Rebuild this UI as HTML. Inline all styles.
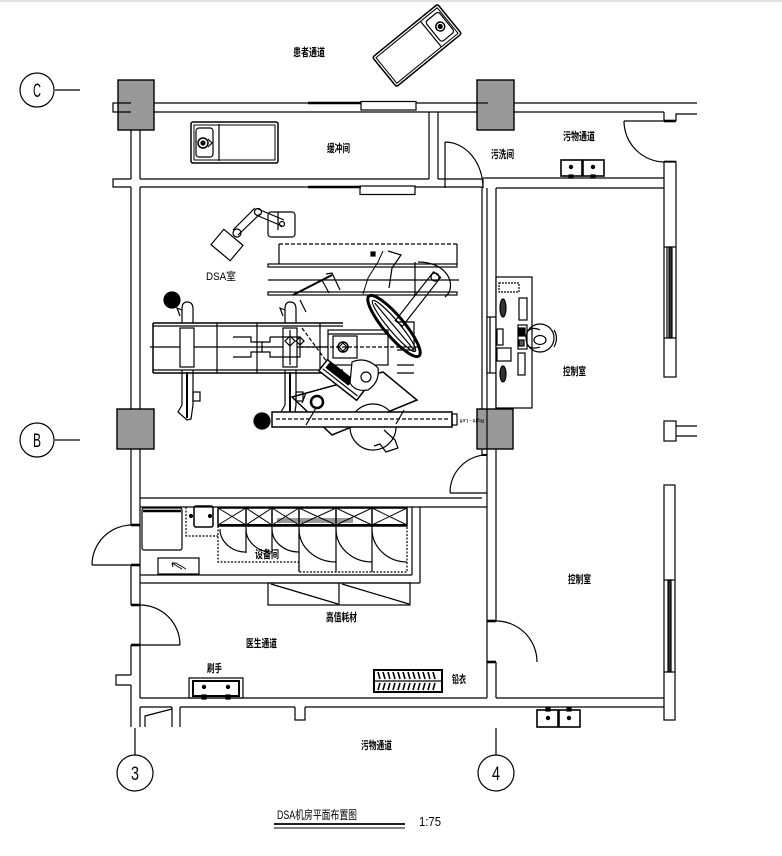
<!DOCTYPE html>
<html><head><meta charset="utf-8">
<style>
html,body{margin:0;padding:0;background:#fff}
svg{display:block}
.t{font-family:"Liberation Sans","Noto Sans CJK SC",sans-serif;font-size:11px;font-weight:bold;fill:#000;stroke:none}
.n{font-family:"Liberation Sans","Noto Sans CJK SC",sans-serif;font-size:11px;fill:#000;stroke:none}
</style></head><body>
<svg width="782" height="856" viewBox="0 0 782 856" xmlns="http://www.w3.org/2000/svg">
<rect x="0" y="0" width="782" height="2" fill="#dde2e5"/>
<g fill="none" stroke="#000" stroke-width="1.2">

<!-- ===== Axis bubbles ===== -->
<circle cx="37" cy="90" r="17"/><line x1="55" y1="90" x2="80" y2="90"/>
<circle cx="37" cy="440" r="17"/><line x1="55" y1="440" x2="80" y2="440"/>
<circle cx="135" cy="773" r="18"/><line x1="135" y1="728" x2="135" y2="755"/>
<circle cx="496" cy="773" r="18"/><line x1="496" y1="728" x2="496" y2="755"/>

<!-- ===== Top wall (axis C) ===== -->
<line x1="154" y1="103" x2="308" y2="103"/>
<line x1="308" y1="103" x2="361" y2="103" stroke-width="2.6"/>
<rect x="361" y="101.5" width="55" height="8.5"/>
<line x1="416" y1="103" x2="477" y2="103"/>
<line x1="154" y1="112" x2="477" y2="112"/>
<line x1="514" y1="103" x2="697" y2="103"/>
<line x1="514" y1="112" x2="664" y2="112"/>
<polyline points="664,112 664,121"/>
<polyline points="697,114 676,114 676,121"/>
<line x1="664" y1="121" x2="676" y2="121" stroke-width="2.6"/>

<!-- partition -->
<line x1="429" y1="112" x2="429" y2="179"/>
<line x1="438" y1="112" x2="438" y2="179"/>

<!-- ===== Second wall y 179-188 ===== -->
<polyline points="131,179 113,179 113,187 131,187"/>
<line x1="140" y1="179" x2="429" y2="179"/>
<line x1="438" y1="179" x2="483" y2="179"/>
<line x1="140" y1="187" x2="308" y2="187"/>
<line x1="308" y1="187" x2="361" y2="187" stroke-width="2.6"/>
<rect x="360" y="186" width="55" height="8.5"/>
<line x1="415" y1="187" x2="482" y2="187"/>
<line x1="483" y1="179" x2="483" y2="188"/>
<line x1="483" y1="178" x2="664" y2="178"/>
<line x1="496" y1="188" x2="664" y2="188"/>
<!-- 污洗间 door -->
<line x1="445" y1="142" x2="445" y2="188"/>
<path d="M445,142 A38,46 0 0 1 483,188"/>

<!-- 污物通道 door -->
<line x1="624" y1="121" x2="664" y2="121"/>
<path d="M624,121 A41,41 0 0 0 665,162"/>
<line x1="664" y1="162" x2="676" y2="162" stroke-width="2.6"/>

<!-- ===== Right outer wall ===== -->
<rect x="664" y="162" width="12" height="215" fill="#fff"/>
<line x1="667" y1="247" x2="667" y2="338"/>
<rect x="669" y="247" width="3" height="91" fill="#333"/>
<line x1="664" y1="247" x2="676" y2="247"/>
<line x1="664" y1="338" x2="676" y2="338"/>
<rect x="664" y="421" width="12" height="20" fill="#fff"/>
<line x1="676" y1="426" x2="697" y2="426"/>
<line x1="676" y1="436" x2="697" y2="436"/>
<rect x="664" y="485" width="11" height="235" fill="#fff"/>
<line x1="664" y1="580" x2="675" y2="580"/>
<line x1="664" y1="672" x2="675" y2="672"/>
<rect x="668" y="580" width="3" height="92" fill="#333"/>

<!-- ===== Left wall ===== -->
<line x1="131" y1="130" x2="131" y2="179"/>
<line x1="140" y1="130" x2="140" y2="179"/>
<line x1="131" y1="187" x2="131" y2="409"/>
<line x1="140" y1="187" x2="140" y2="409"/>
<line x1="131" y1="449" x2="131" y2="525"/>
<line x1="131" y1="565" x2="131" y2="605"/>
<line x1="131" y1="645" x2="131" y2="675"/>
<line x1="131" y1="685" x2="131" y2="727"/>
<line x1="140" y1="449" x2="140" y2="698"/>
<polyline points="131,675 116,675 116,685 131,685"/>
<line x1="131" y1="525" x2="140" y2="525" stroke-width="2.6"/>
<line x1="131" y1="565" x2="140" y2="565" stroke-width="2.6"/>
<line x1="131" y1="605" x2="140" y2="605" stroke-width="2.6"/>
<line x1="131" y1="645" x2="140" y2="645" stroke-width="2.6"/>
<!-- left doors -->
<line x1="92" y1="565" x2="131" y2="565"/>
<path d="M92,565 A40,40 0 0 1 132,525"/>
<line x1="140" y1="645" x2="180" y2="645"/>
<path d="M140,605 A40,40 0 0 1 180,645"/>

<!-- ===== Bottom walls ===== -->
<line x1="140" y1="698" x2="487" y2="698"/>
<line x1="496" y1="698" x2="664" y2="698"/>
<line x1="140" y1="707" x2="172" y2="707"/>
<line x1="180" y1="707" x2="295" y2="707"/>
<line x1="305" y1="707" x2="664" y2="707"/>
<polyline points="295,707 295,720 305,720 305,707"/>
<line x1="140" y1="707" x2="140" y2="727"/>
<line x1="172" y1="707" x2="172" y2="727"/>
<line x1="180" y1="707" x2="180" y2="727"/>
<polyline points="145,727 145,716 172,709"/>

<!-- ===== DSA right wall ===== -->
<line x1="482" y1="187" x2="482" y2="409"/>
<line x1="487" y1="188" x2="487" y2="409"/>
<line x1="496" y1="188" x2="496" y2="409"/>
<line x1="482" y1="449" x2="482" y2="455"/>
<line x1="487" y1="449" x2="487" y2="698"/>
<line x1="496" y1="449" x2="496" y2="621"/>
<line x1="496" y1="662" x2="496" y2="698"/>
<!-- obs window -->
<rect x="487" y="317" width="9" height="56" fill="#fff"/>
<line x1="490" y1="317" x2="490" y2="373"/>
<!-- DSA->control door -->
<line x1="450" y1="493" x2="487" y2="493"/>
<path d="M450,493 A37,38 0 0 1 487,455"/>
<line x1="482" y1="455" x2="487" y2="455" stroke-width="2"/>
<!-- lower control door -->
<line x1="487" y1="621" x2="496" y2="621" stroke-width="2.6"/>
<line x1="487" y1="662" x2="496" y2="662" stroke-width="2.6"/>
<path d="M496,621 A41,41 0 0 1 537,662"/>

<!-- DSA bottom wall -->
<line x1="140" y1="498" x2="482" y2="498"/>
<line x1="140" y1="507" x2="487" y2="507"/>

<!-- equipment room walls -->
<line x1="412" y1="507" x2="412" y2="575"/>
<line x1="420" y1="507" x2="420" y2="583"/>
<line x1="140" y1="575" x2="412" y2="575"/>
<line x1="140" y1="583" x2="420" y2="583"/>

<!-- ===== Columns ===== -->
<rect x="118" y="80" width="36" height="50" fill="#999" stroke-width="1.4"/>
<polyline points="131,103 113,103 113,112 131,112"/>
<rect x="477" y="80" width="37" height="50" fill="#999" stroke-width="1.4"/>
<line x1="477" y1="103" x2="488" y2="103"/>
<rect x="117" y="409" width="37" height="40" fill="#999" stroke-width="1.4"/>
<rect x="477" y="409" width="36" height="40" fill="#999" stroke-width="1.4"/>
<line x1="487" y1="409" x2="487" y2="449"/>

<!-- ===== Stretcher (top, rotated) ===== -->
<g transform="translate(417,45.5) rotate(-39.2)">
<rect x="-42" y="-19" width="84" height="38" rx="2" stroke-width="1.5"/>
<rect x="-39.5" y="-16.5" width="79" height="33" stroke-width="1"/>
<line x1="18" y1="-16" x2="18" y2="16"/>
<rect x="21" y="-13" width="17" height="26" rx="3"/>
<circle cx="30" cy="0" r="4.5" stroke-width="1.5"/>
<circle cx="30" cy="0" r="2" fill="#000"/>
</g>

<!-- ===== Stretcher 缓冲间 ===== -->
<rect x="191" y="122" width="87" height="41" rx="2" stroke-width="1.5"/>
<rect x="194" y="125" width="81" height="35" stroke-width="1"/>
<line x1="219" y1="124" x2="219" y2="161"/>
<rect x="196" y="128" width="17" height="29" rx="3"/>
<circle cx="203" cy="143" r="5" stroke-width="1.5"/>
<circle cx="203" cy="143" r="2" fill="#000"/>
<path d="M208,139 L212,143 L208,147"/>

<!-- ===== Sinks ===== -->
<rect x="561" y="160" width="21" height="16" stroke-width="1.6"/>
<rect x="583" y="160" width="21" height="16" stroke-width="1.6"/>
<circle cx="571" cy="167" r="1.6" fill="#000"/>
<circle cx="593" cy="167" r="1.6" fill="#000"/>
<rect x="569" y="175" width="4" height="3" fill="#000"/>
<rect x="591" y="175" width="4" height="3" fill="#000"/>

<rect x="537" y="710" width="21" height="17" stroke-width="1.6"/>
<rect x="559" y="710" width="21" height="17" stroke-width="1.6"/>
<circle cx="548" cy="718" r="1.6" fill="#000"/>
<circle cx="569" cy="718" r="1.6" fill="#000"/>
<rect x="546" y="708" width="4" height="3" fill="#000"/>
<rect x="567" y="708" width="4" height="3" fill="#000"/>

<!-- ===== DSA room equipment ===== -->
<!-- monitor boom -->
<g transform="translate(227,245) rotate(40)"><rect x="-12.5" y="-10" width="25" height="20"/></g>
<line x1="233" y1="230" x2="255" y2="208"/>
<line x1="238" y1="235" x2="260" y2="214"/>
<line x1="258" y1="209" x2="284" y2="220"/>
<line x1="256" y1="215" x2="282" y2="226"/>
<circle cx="237" cy="233" r="4"/>
<circle cx="258" cy="212" r="3.5"/>
<rect x="268" y="212" width="27" height="25" rx="3"/>
<circle cx="282" cy="224" r="2.5"/>
<line x1="278" y1="212" x2="278" y2="230"/>

<!-- ceiling rail -->
<line x1="279" y1="244" x2="457" y2="244" stroke-dasharray="4,2"/>
<line x1="279" y1="244" x2="279" y2="264"/>
<line x1="457" y1="244" x2="457" y2="264"/>
<rect x="268" y="264" width="189" height="3"/>
<line x1="268" y1="280" x2="459" y2="280"/>
<rect x="268" y="292" width="189" height="3"/>
<line x1="415" y1="262" x2="415" y2="296"/>
<path d="M418,262 C450,262 457,288 445,297"/>
<rect x="371" y="252" width="4" height="4" fill="#000"/>
<polyline points="388,251 401,255 392,268 389,288"/>
<polyline points="383,251 378,262 368,278 363,294" stroke-width="1"/>

<!-- black dots -->
<circle cx="172" cy="300" r="8" fill="#000"/>
<circle cx="262" cy="421" r="8" fill="#000"/>

<!-- patient table -->
<line x1="153" y1="323" x2="343" y2="323" stroke-width="1.5"/>
<line x1="153" y1="326" x2="343" y2="326"/>
<line x1="153" y1="370" x2="343" y2="370"/>
<line x1="153" y1="373" x2="343" y2="373" stroke-width="1.5"/>
<line x1="153" y1="323" x2="153" y2="373" stroke-width="1.5"/>
<line x1="150" y1="347" x2="330" y2="347"/>
<line x1="217" y1="323" x2="217" y2="373"/>
<line x1="257" y1="323" x2="257" y2="373"/>
<line x1="320" y1="323" x2="320" y2="373"/>
<rect x="180" y="328" width="14" height="39" fill="#fff"/>
<rect x="283" y="328" width="14" height="39" fill="#fff"/>
<line x1="290" y1="330" x2="290" y2="365"/>
<path d="M233,337 H251 V342 H262 V352 H251 V357 H233" />
<path d="M270,337 H300 V357 H270 V352 H262 M270,337 V342 H262"/>
<path d="M285,341 l5,-5 l5,5 l-5,5z M296,341 l4,-4 l4,4 l-4,4z"/>
<!-- castors -->
<path d="M182,323 V309 Q182,302 187,302 Q193,302 193,309 V323"/>
<path d="M182,310 L177,308 L180,316"/>
<path d="M182,370 V405 L178,412 L187,420 L191,419 L193,405 V370"/>
<rect x="193" y="392" width="7" height="9"/>
<line x1="187" y1="372" x2="187" y2="418" stroke-width="2"/>
<path d="M285,323 V309 Q285,302 290,302 Q296,302 296,309 V323"/>
<path d="M285,310 L280,308 L283,316"/>
<path d="M285,370 V405 L281,412 L290,420 L294,419 L296,405 V370"/>
<rect x="296" y="392" width="7" height="9"/>
<line x1="290" y1="372" x2="290" y2="418" stroke-width="2"/>
<line x1="300" y1="300" x2="306" y2="312"/>
<line x1="302" y1="403" x2="306" y2="393"/>

<!-- C-arm / head -->
<rect x="328" y="330" width="60" height="35" fill="#fff"/>
<line x1="328" y1="334" x2="388" y2="334"/>
<rect x="333" y="336" width="24" height="22"/>
<circle cx="343" cy="347" r="5" stroke-width="1.5"/>
<path d="M339,347 l4,-4 l4,4 l-4,4z"/>
<line x1="300" y1="347" x2="420" y2="347" stroke-dasharray="4,2"/>
<line x1="302" y1="328" x2="330" y2="366" stroke-dasharray="4,2"/>
<polyline points="397,322 414,322 414,350 397,350"/>
<line x1="397" y1="365" x2="414" y2="365"/>
<line x1="397" y1="373" x2="414" y2="373"/>
<line x1="293" y1="295" x2="332" y2="275" stroke-width="2"/>
<polyline points="326,274 332,273 340,290"/>
<polyline points="322,280 329,293"/>
<!-- ceiling arm -->
<g transform="translate(418,299) rotate(128)"><rect x="-31" y="-4.5" width="62" height="9"/></g>
<circle cx="435" cy="277" r="4"/>
<!-- detector oval -->
<g transform="translate(394,326) rotate(50)">
<ellipse cx="0" cy="0" rx="39" ry="10" stroke-width="3"/>
<ellipse cx="0" cy="0" rx="33" ry="5.5" stroke-width="1.2"/>
<line x1="-30" y1="0" x2="30" y2="0"/>
</g>
<!-- C-arm lower -->
<polygon points="292,397 383,372 417,400 332,435" stroke-width="1.5"/>
<circle cx="373" cy="427" r="23"/>
<circle cx="317" cy="402" r="6" stroke-width="2.5"/>
<g transform="translate(342,380) rotate(38)">
<rect x="-24" y="-7" width="48" height="14" fill="#fff" stroke-width="1.5"/>
<rect x="-20" y="-6" width="28" height="6" fill="#000"/>
<line x1="-22" y1="3" x2="22" y2="3"/>
</g>
<path d="M352,362 Q366,356 378,368 Q380,382 368,390 Q355,392 350,383 Z" fill="#fff"/>
<circle cx="366" cy="377" r="5"/>
<polyline points="384,430 395,440 398,448 386,452 380,444 374,446"/>
<!-- bottom bar -->
<rect x="272" y="412" width="180" height="15" fill="#fff" stroke-width="1.5"/>
<line x1="276" y1="419" x2="448" y2="419" stroke-dasharray="4,2"/>
<rect x="452" y="414" width="5" height="11"/>
<line x1="306" y1="425" x2="316" y2="408"/>
<line x1="396" y1="424" x2="404" y2="410"/>

<!-- ===== Control console ===== -->
<rect x="496" y="277" width="36" height="131" fill="#fff"/>
<rect x="499" y="283" width="20" height="9" stroke-dasharray="2,1"/>
<ellipse cx="503" cy="308" rx="3" ry="9" fill="#333"/>
<rect x="519" y="298" width="8" height="22"/>
<rect x="518" y="325" width="9" height="24"/>
<rect x="519" y="328" width="6" height="8" fill="#000"/>
<rect x="519" y="340" width="5" height="6" fill="#555"/>
<rect x="518" y="353" width="7" height="22"/>
<rect x="497" y="329" width="6" height="16"/>
<rect x="497" y="348" width="14" height="13"/>
<ellipse cx="503" cy="374" rx="3" ry="8" fill="#333"/>
<circle cx="540" cy="338" r="14"/>
<ellipse cx="540" cy="340" rx="6" ry="4.5"/>
<path d="M554,330 Q559,338 554,347"/>
<path d="M527,332 Q532,326 540,330 M527,345 Q532,350 540,347"/>

<!-- ===== Equipment room ===== -->
<rect x="142" y="508" width="40" height="42" rx="2"/>
<line x1="143" y1="511" x2="181" y2="511" stroke-width="2.5"/>
<path d="M186,507 V536 H218" stroke-dasharray="2,1.5"/>
<rect x="194" y="506" width="19" height="21" rx="2" stroke-width="1.5"/>
<circle cx="191" cy="516" r="1.5" fill="#000"/>
<circle cx="210" cy="516" r="1.5" fill="#000"/>
<rect x="158" y="558" width="41" height="16"/>
<path d="M172,563 L182,569 M172,563 l1,4 M172,563 l4,0 M176,563 L186,569" stroke-width="1"/>
<!-- cabinet row -->
<rect x="218" y="508" width="189" height="18" stroke-width="1.5"/>
<rect x="277" y="518" width="76" height="5" fill="#999" stroke="none"/>
<line x1="218" y1="525" x2="407" y2="525" stroke-width="2"/>
<g stroke-width="1">
<path d="M218,508 L246,525 M246,508 L218,525"/>
<path d="M246,508 L272,525 M272,508 L246,525"/>
<path d="M272,508 L299,525 M299,508 L272,525"/>
<path d="M299,508 L336,525 M336,508 L299,525"/>
<path d="M336,508 L372,525 M372,508 L336,525"/>
<path d="M372,508 L407,525 M407,508 L372,525"/>
</g>
<g stroke-width="1.5">
<line x1="246" y1="508" x2="246" y2="526"/>
<line x1="272" y1="508" x2="272" y2="526"/>
<line x1="299" y1="508" x2="299" y2="526"/>
<line x1="336" y1="508" x2="336" y2="526"/>
<line x1="372" y1="508" x2="372" y2="526"/>
</g>
<path d="M218,526 V562 H299" stroke-dasharray="2,1.5"/>
<path d="M299,562 V572 H407 V526" stroke-dasharray="2,1.5"/>
<line x1="246" y1="526" x2="246" y2="553"/>
<line x1="272" y1="526" x2="272" y2="553"/>
<line x1="299" y1="526" x2="299" y2="572"/>
<line x1="336" y1="526" x2="336" y2="572"/>
<line x1="372" y1="526" x2="372" y2="572"/>
<path d="M220,529 A26,23 0 0 0 246,552"/>
<path d="M246,529 A26,23 0 0 0 272,552"/>
<path d="M272,529 A27,23 0 0 0 299,552"/>
<path d="M299,529 A37,33 0 0 0 336,562"/>
<path d="M336,529 A36,33 0 0 0 372,562"/>
<path d="M372,529 A35,33 0 0 0 407,562"/>

<!-- 高值耗材 shelves -->
<rect x="268" y="583" width="142" height="22"/>
<line x1="339" y1="583" x2="339" y2="605"/>
<line x1="271" y1="584" x2="338" y2="604"/>
<line x1="342" y1="584" x2="409" y2="604"/>

<!-- 刷手 sink -->
<rect x="189" y="678" width="54" height="20"/>
<rect x="193" y="681" width="46" height="15" stroke-width="2"/>
<circle cx="204" cy="687" r="1.6" fill="#000"/>
<circle cx="228" cy="687" r="1.6" fill="#000"/>
<rect x="202" y="695" width="4" height="4" fill="#000"/>
<rect x="226" y="695" width="4" height="4" fill="#000"/>

<!-- 铅衣 rack -->
<rect x="374" y="670" width="68" height="22" stroke-width="2"/>
<line x1="374" y1="681" x2="442" y2="681"/>
<path d="M378,672 l2,7 M383,672 l2,7 M388,672 l2,7 M393,672 l2,7 M398,672 l2,7 M403,672 l2,7 M408,672 l2,7 M413,672 l2,7 M418,672 l2,7 M423,672 l2,7 M428,672 l2,7 M433,672 l2,7" stroke-width="1.6"/>
<path d="M380,683 l-2,7 M385,683 l-2,7 M390,683 l-2,7 M395,683 l-2,7 M400,683 l-2,7 M405,683 l-2,7 M410,683 l-2,7 M415,683 l-2,7 M420,683 l-2,7 M425,683 l-2,7 M430,683 l-2,7 M435,683 l-2,7" stroke-width="1.6"/>

<!-- title underline -->
<line x1="274" y1="824" x2="405" y2="824" stroke-width="1.8"/>
<line x1="274" y1="828" x2="405" y2="828" stroke-width="1"/>
</g>

<!-- ===== Texts ===== -->
<text class="t" x="293" y="56" textLength="32" lengthAdjust="spacingAndGlyphs">患者通道</text>
<text class="t" x="327" y="152" textLength="23" lengthAdjust="spacingAndGlyphs">缓冲间</text>
<text class="t" x="491" y="158" textLength="23" lengthAdjust="spacingAndGlyphs">污洗间</text>
<text class="t" x="563" y="140" textLength="32" lengthAdjust="spacingAndGlyphs">污物通道</text>
<text class="n" x="206" y="280" textLength="30" lengthAdjust="spacingAndGlyphs" style="font-size:11px">DSA室</text>
<text class="t" x="563" y="375" textLength="23" lengthAdjust="spacingAndGlyphs">控制室</text>
<text class="t" x="568" y="583" textLength="23" lengthAdjust="spacingAndGlyphs">控制室</text>
<text class="t" x="255" y="558" textLength="24" lengthAdjust="spacingAndGlyphs">设备间</text>
<text class="t" x="326" y="621" textLength="31" lengthAdjust="spacingAndGlyphs">高值耗材</text>
<text class="t" x="246" y="647" textLength="31" lengthAdjust="spacingAndGlyphs">医生通道</text>
<text class="t" x="207" y="672" textLength="15" lengthAdjust="spacingAndGlyphs">刷手</text>
<text class="t" x="452" y="683" textLength="14" lengthAdjust="spacingAndGlyphs">铅衣</text>
<text class="t" x="361" y="749" textLength="31" lengthAdjust="spacingAndGlyphs">污物通道</text>
<text class="n" x="277" y="819" textLength="80" lengthAdjust="spacingAndGlyphs" style="font-size:12px">DSA机房平面布置图</text>
<text class="n" x="419" y="826" textLength="22" lengthAdjust="spacingAndGlyphs" style="font-size:13px">1:75</text>
<text class="n" x="472" y="417" text-anchor="middle" transform="rotate(180 472 418)" style="font-size:5px">Right - Left</text>
<text class="n" x="33" y="97" textLength="8" lengthAdjust="spacingAndGlyphs" style="font-size:19px;font-weight:normal">C</text>
<text class="n" x="33" y="447" textLength="8" lengthAdjust="spacingAndGlyphs" style="font-size:19px">B</text>
<text class="n" x="131" y="780" textLength="8" lengthAdjust="spacingAndGlyphs" style="font-size:19px">3</text>
<text class="n" x="492" y="780" textLength="8" lengthAdjust="spacingAndGlyphs" style="font-size:19px">4</text>
</svg>
</body></html>
